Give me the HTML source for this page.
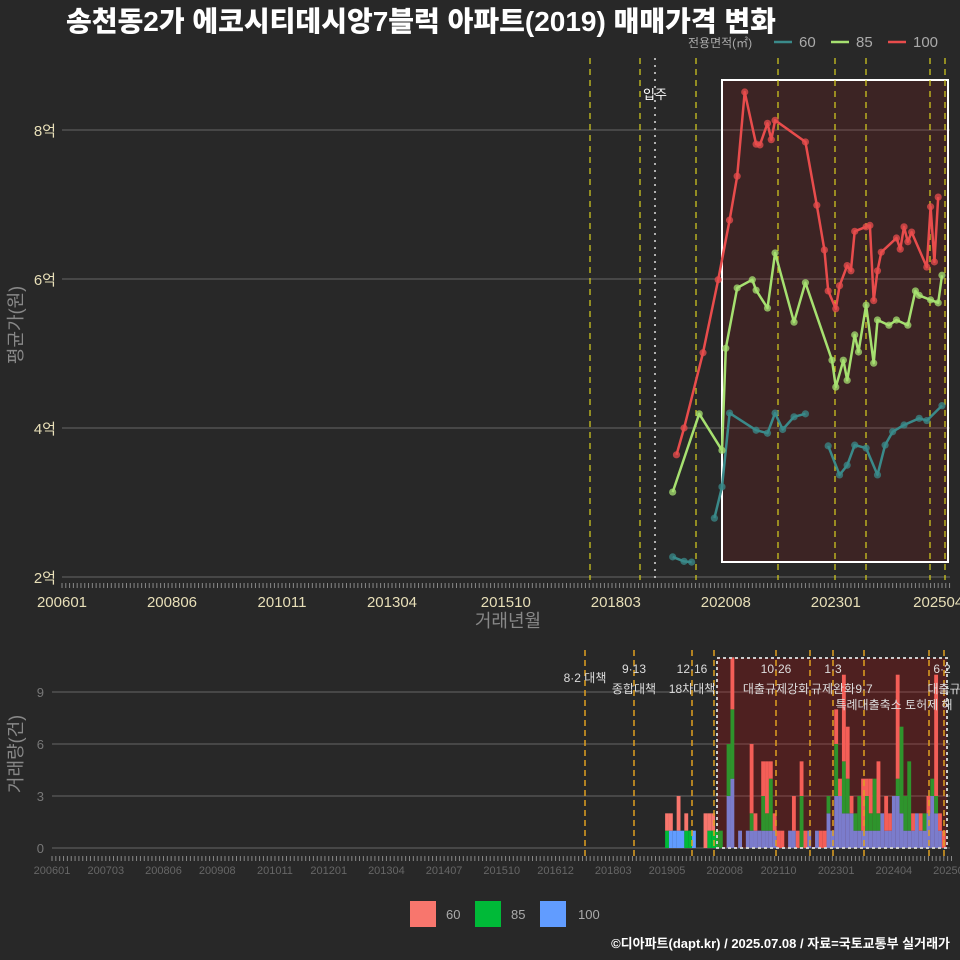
<!DOCTYPE html>
<html><head><meta charset="utf-8">
<style>
html,body{margin:0;padding:0;background:#282828;}
svg{display:block;font-family:"Liberation Sans","Noto Sans CJK KR",sans-serif;}
</style></head>
<body>
<svg id="c" width="960" height="960" viewBox="0 0 960 960" xmlns="http://www.w3.org/2000/svg">
<rect width="960" height="960" fill="#282828"/>
<text x="66" y="31" fill="#ffffff" font-size="28" font-weight="900">송천동2가 에코시티데시앙7블럭 아파트(2019) 매매가격 변화</text>
<g>
<text x="688" y="47" fill="#aaaaaa" font-size="12">전용면적(㎡)</text>
<line x1="774" y1="42" x2="792" y2="42" stroke="#3a8a8a" stroke-width="2.5"/>
<text x="799" y="47" fill="#aaaaaa" font-size="15">60</text>
<line x1="831" y1="42" x2="849" y2="42" stroke="#a6e070" stroke-width="2.5"/>
<text x="856" y="47" fill="#aaaaaa" font-size="15">85</text>
<line x1="888" y1="42" x2="906" y2="42" stroke="#e84c4c" stroke-width="2.5"/>
<text x="913" y="47" fill="#aaaaaa" font-size="15">100</text>
</g>
<g id="topG"></g>
<g id="botG"></g>
<text x="508" y="627" fill="#888888" font-size="18" text-anchor="middle">거래년월</text>
<text transform="translate(22,325) rotate(-90)" fill="#888888" font-size="18" text-anchor="middle">평균가(원)</text>
<text transform="translate(22,754) rotate(-90)" fill="#888888" font-size="18" text-anchor="middle">거래량(건)</text>
<g>
<rect x="410" y="901" width="26" height="26" fill="#F8766D"/>
<text x="446" y="919" fill="#aaaaaa" font-size="13">60</text>
<rect x="475" y="901" width="26" height="26" fill="#00BA38"/>
<text x="511" y="919" fill="#aaaaaa" font-size="13">85</text>
<rect x="540" y="901" width="26" height="26" fill="#619CFF"/>
<text x="578" y="919" fill="#aaaaaa" font-size="13">100</text>
</g>
<text x="950" y="948" fill="#ffffff" font-size="13" font-weight="bold" text-anchor="end">©디아파트(dapt.kr) / 2025.07.08 / 자료=국토교통부 실거래가</text>
</svg>
<script>
// ---- price data (억) ----
const m60 = ["201906","201909","201911",null,"202005","202007","202009","202104","202107","202109","202111","202202","202205",null,"202211","202302","202304","202306","202309","202312","202402","202404","202407","202411","202501","202505"];
const v60 = [2.27,2.21,2.2,null,2.79,3.21,4.2,3.97,3.93,4.2,3.98,4.15,4.19,null,3.76,3.37,3.5,3.77,3.73,3.37,3.77,3.95,4.04,4.13,4.1,4.3];
const m85 = ["201906","202001","202007","202008","202011","202103","202104","202107","202109","202202","202205","202212","202301","202303","202304","202306","202307","202309","202311","202312","202403","202405","202408","202410","202411","202502","202504","202505"];
const v85 = [3.14,4.19,3.7,5.07,5.88,5.99,5.85,5.61,6.35,5.42,5.95,4.91,4.55,4.91,4.64,5.25,5.02,5.65,4.87,5.45,5.38,5.45,5.38,5.84,5.78,5.72,5.68,6.05];
const m100 = ["201907","201909","202002","202006","202009","202011","202101","202104","202105","202107","202108","202109","202205","202208","202210","202211","202301","202302","202304","202305","202306","202309","202310","202311","202312","202401","202405","202406","202407","202408","202409","202501","202502","202503","202504"];
const v100 = [3.64,4.0,5.01,5.99,6.79,7.38,8.51,7.81,7.8,8.09,7.87,8.13,7.84,6.99,6.39,5.84,5.6,5.91,6.18,6.11,6.64,6.7,6.72,5.71,6.11,6.36,6.55,6.4,6.7,6.5,6.63,6.16,6.97,6.23,7.1];
const yTicks = [2,4,6,8];
const yTickLabels = ["2억","4억","6억","8억"];
const xTickLabels = ["200601","200806","201011","201304","201510","201803","202008","202301","202504"];
// ---- volume data ----
const volMonths = ["201905","201906","201907","201908","201909","201910","201911","201912","202001","202002","202003","202004","202005","202006","202007","202008","202009","202010","202011","202012","202101","202102","202103","202104","202105","202106","202107","202108","202109","202110","202111","202112","202201","202202","202203","202204","202205","202206","202207","202208","202209","202210","202211","202212","202301","202302","202303","202304","202305","202306","202307","202308","202309","202310","202311","202312","202401","202402","202403","202404","202405","202406","202407","202408","202409","202410","202411","202412","202501","202502","202503","202504","202505","202506","202507"];
const vol60  = [1,1,0,2,0,1,0,0,0,0,2,1,1,0,0,0,0,3,0,0,0,0,4,1,0,2,3,1,1,1,1,0,0,2,1,2,1,0,0,0,1,1,0,0,2,1,5,3,1,0,0,3,1,2,0,3,0,2,1,0,6,0,0,0,1,0,1,0,1,0,7,1,1,0,0];
const vol85  = [1,0,0,0,0,1,1,0,0,0,0,1,1,1,1,0,3,4,0,0,0,0,1,0,0,2,1,3,0,0,0,0,0,0,0,3,0,0,0,0,0,0,1,0,3,0,3,2,0,1,2,0,2,1,3,1,0,0,0,0,1,5,2,4,0,0,0,1,0,1,1,0,0,0,0];
const vol100 = [0,1,1,1,1,0,0,1,0,0,0,0,0,0,0,0,3,4,0,1,0,1,1,1,1,1,1,1,1,0,0,0,1,1,0,0,0,1,0,1,0,0,2,1,3,3,2,2,2,1,1,1,1,1,1,1,2,1,1,3,3,2,1,1,1,2,1,1,2,3,2,1,0,0,0];
const volTicks = [0,3,6,9];
const volXLabels = ["200601","200703","200806","200908","201011","201201","201304","201407","201510","201612","201803","201905","202008","202110","202301","202404","202507"];

const NS="http://www.w3.org/2000/svg";
function mk(tag,attrs,parent){const e=document.createElementNS(NS,tag);for(const k in attrs)e.setAttribute(k,attrs[k]);parent.appendChild(e);return e;}
function mi(s){return (parseInt(s.slice(0,4))-2006)*12+parseInt(s.slice(4,6))-1;}
const xT=s=>62+mi(s)*3.793;
const yT=v=>577-(v-2)*74.5;
const xB=s=>52+mi(s)*3.844;
const yB=v=>848-v*17.33;

const topG=document.getElementById('topG');
yTicks.forEach((t,i)=>{
  const l=mk('line',{x1:62,x2:950,y1:yT(t),y2:yT(t),stroke:'#5a5a5a','stroke-width':1.3},topG);
  
  
  const tx=mk('text',{x:56,y:yT(t)+6,fill:'#e8dfb8','font-size':15,'text-anchor':'end'},topG);
  tx.textContent=yTickLabels[i];
  
  
});
for(let m=0;m<=234;m++){
  const l=mk('line',{x1:62+m*3.793,x2:62+m*3.793,y1:583,y2:588,stroke:'#888','stroke-width':1},topG);
  
  
}
xTickLabels.forEach(s=>{
  const tx=mk('text',{x:xT(s),y:607,fill:'#e8dfb8','font-size':15,'text-anchor':'middle'},topG);
  tx.textContent=s;
  
  
});
const hr=mk('rect',{x:722,y:80,width:226,height:482,fill:'rgba(170,20,20,0.16)',stroke:'#ffffff','stroke-width':2},topG);


[590,640,696,778,835,866,930,945].forEach(x=>{
  const l=mk('line',{x1:x,x2:x,y1:58,y2:580,stroke:'#d8d020','stroke-width':1.2,'stroke-dasharray':'6,5'},topG);
  
  
});
const ml=mk('line',{x1:655,x2:655,y1:58,y2:580,stroke:'#dddddd','stroke-width':1.5,'stroke-dasharray':'2,5'},topG);


const mt=mk('text',{x:655,y:99,fill:'#ffffff','font-size':13,'text-anchor':'middle'},topG);
mt.textContent='입주';



function series(ms,vs,color,name){
  let d='',pen=false;
  ms.forEach((m,i)=>{
    if(m===null){pen=false;return;}
    d+=(pen?'L':'M')+xT(m).toFixed(1)+','+yT(vs[i]).toFixed(1);pen=true;
  });
  const p=mk('path',{d:d,fill:'none',stroke:color,'stroke-width':2.5,'stroke-linejoin':'round'},topG);
  
  
  ms.forEach((m,i)=>{
    if(m===null)return;
    const c=mk('circle',{cx:xT(m),cy:yT(vs[i]),r:3.6,fill:color,opacity:0.75},topG);
    
    
  });
}
series(m60,v60,'#3a8a8a','60');
series(m85,v85,'#a6e070','85');
series(m100,v100,'#e84c4c','100');

const botG=document.getElementById('botG');
volTicks.forEach(t=>{
  const l=mk('line',{x1:52,x2:950,y1:yB(t),y2:yB(t),stroke:'#5a5a5a','stroke-width':1.2},botG);
  
  
  const tx=mk('text',{x:44,y:yB(t)+5,fill:'#777','font-size':13,'text-anchor':'end'},botG);
  tx.textContent=String(t);
  
  
});
for(let m=0;m<=234;m++){
  const l=mk('line',{x1:52+m*3.844,x2:52+m*3.844,y1:856,y2:861,stroke:'#888','stroke-width':1},botG);
  
  
}
volXLabels.forEach(s=>{
  const tx=mk('text',{x:xB(s),y:874,fill:'#666','font-size':11,'text-anchor':'middle'},botG);
  tx.textContent=s;
  
  
});
const bw=3.844;
volMonths.forEach((s,i)=>{
  let base=0;
  [[vol100[i],'#619CFF','bar-100'],[vol85[i],'#00BA38','bar-85'],[vol60[i],'#F8766D','bar-60']].forEach(([v,col,nm])=>{
    if(!v)return;
    const r=mk('rect',{x:xB(s)-bw/2,y:yB(base+v),width:bw,height:yB(base)-yB(base+v),fill:col},botG);
    
    
    base+=v;
  });
});
const br=mk('rect',{x:717,y:658,width:230,height:190,fill:'rgba(230,0,0,0.2)',stroke:'#cccccc','stroke-width':2,'stroke-dasharray':'3,3'},botG);


[585,634,692,714,776,810,833,864,929,944].forEach(x=>{
  const l=mk('line',{x1:x,x2:x,y1:650,y2:858,stroke:'#e0a020','stroke-width':1.5,'stroke-dasharray':'6,4'},botG);
  
  
});
const labels=[[585,682,'8·2 대책'],[634,673,'9·13'],[634,693,'종합대책'],[692,673,'12·16'],[692,693,'18차대책'],[776,673,'10·26'],[776,693,'대출규제강화'],[833,673,'1·3'],[833,693,'규제완화'],[864,693,'9·7'],[894,709,'특례대출축소 토허제 해'],[942,673,'6·2'],[944,693,'대출규']];
labels.forEach(([x,y,t])=>{
  const tx=mk('text',{x:x,y:y,fill:'#dddddd','font-size':12,'text-anchor':'middle'},botG);
  tx.textContent=t;
  
  
});
</script>
</body></html>
